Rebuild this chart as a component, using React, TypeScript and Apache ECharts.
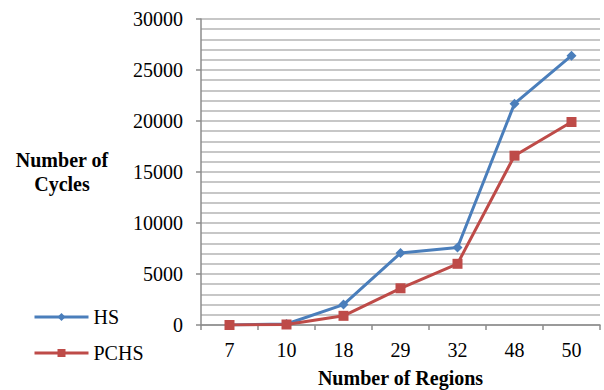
import React, { useEffect, useRef } from "react";
import * as echarts from "echarts";

const categories = ["7", "10", "18", "29", "32", "48", "50"];
const hsValues = [0, 100, 2000, 7050, 7600, 21700, 26400];
const pchsValues = [0, 50, 900, 3600, 6000, 16600, 19900];
const seriesNames = ["HS", "PCHS"];

export default function App() {
  const ref = useRef<HTMLDivElement>(null);
  useEffect(() => {
    const chart = echarts.init(ref.current!, null, { renderer: "svg" });
    const font = "'Liberation Serif', 'Times New Roman', serif";
    chart.setOption({
      animation: false,
      textStyle: { fontFamily: font },
      grid: { left: 201, right: 4, top: 19, bottom: 65, outerBoundsMode: "none", containLabel: false },
      legend: {
        orient: "vertical",
        left: 33,
        top: 307,
        padding: 0,
        itemWidth: 54,
        itemHeight: 10,
        itemGap: 16,
        lineStyle: { width: 3 },
        textStyle: { fontFamily: font, fontSize: 20, color: "#000" },
        data: seriesNames,
      },
      xAxis: {
        type: "category",
        data: categories,
        boundaryGap: true,
        name: "Number of Regions",
        nameLocation: "middle",
        nameGap: 43,
        nameTextStyle: { fontFamily: font, fontSize: 20, fontWeight: "bold", color: "#000" },
        axisLine: { lineStyle: { color: "#8c8c8c", width: 1.5 } },
        axisTick: { show: true, alignWithLabel: false, length: 5, lineStyle: { color: "#8c8c8c", width: 1.5 } },
        axisLabel: { fontFamily: font, fontSize: 20, color: "#000", margin: 15 },
      },
      yAxis: {
        type: "value",
        min: 0,
        max: 30000,
        interval: 5000,
        name: "Number of\nCycles",
        nameLocation: "middle",
        nameRotate: 0,
        nameGap: 139,
        nameTextStyle: {
          fontFamily: font,
          fontSize: 20,
          fontWeight: "bold",
          color: "#000",
          lineHeight: 24,
          align: "center",
          padding: [24, 0, 0, 0],
        },
        axisLine: { show: true, lineStyle: { color: "#8c8c8c", width: 1.5 } },
        axisTick: { show: true, length: 5, lineStyle: { color: "#8c8c8c", width: 1.5 } },
        axisLabel: {
          fontFamily: font,
          fontSize: 20,
          color: "#000",
          margin: 18,
          formatter: (v: number) => String(v),
        },
        splitLine: { show: true, lineStyle: { color: "#b5b5b5", width: 1.5 } },
        minorTick: { show: false, splitNumber: 5 },
        minorSplitLine: { show: true, lineStyle: { color: "#b5b5b5", width: 1.5 } },
      },
      series: [
        {
          name: seriesNames[0],
          type: "line",
          data: hsValues,
          symbol: "diamond",
          symbolSize: 10,
          lineStyle: { color: "#4a7ebb", width: 3 },
          itemStyle: { color: "#4a7ebb" },
        },
        {
          name: seriesNames[1],
          type: "line",
          data: pchsValues,
          symbol: "rect",
          symbolSize: 10,
          lineStyle: { color: "#be4b48", width: 3 },
          itemStyle: { color: "#be4b48" },
        },
      ],
    });
    return () => chart.dispose();
  }, []);
  return <div ref={ref} style={{ width: 604, height: 390, position: "absolute", left: 0, top: 0 }} />;
}
